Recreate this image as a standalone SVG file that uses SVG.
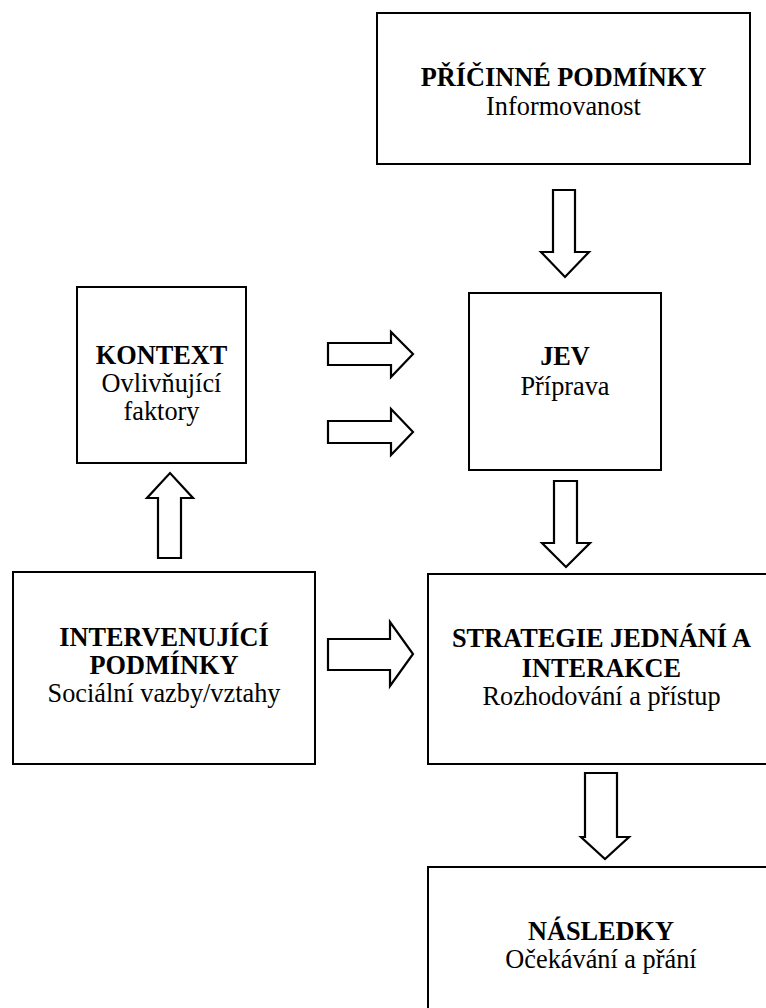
<svg xmlns="http://www.w3.org/2000/svg" width="766" height="1008" viewBox="0 0 766 1008">
<style>
.box{fill:#fff;stroke:#000;stroke-width:2}
.arr{fill:#fff;stroke:#000;stroke-width:2.2;stroke-linejoin:miter}
text{font-family:"Liberation Serif","Times New Roman",serif;font-size:26.3px;fill:#000;text-anchor:middle}
.b{font-weight:bold}
</style>
<rect width="766" height="1008" fill="#fff"/>
<g id="connectors">
<polygon class="arr" points="553,190 575,190 575,252 589,252 565,277 541,252 553,252"/>
<polygon class="arr" points="554,481 577,481 577,543 590,543 566,567 542,543 554,543"/>
<polygon class="arr" points="585,773 617,773 617,837 629,837 605,859 581,837 585,837"/>
<polygon class="arr" points="328,343 391,343 391,332 413,354 391,377 391,365 328,365"/>
<polygon class="arr" points="328,421 391,421 391,409 413,432 391,455 391,443 328,443"/>
<polygon class="arr" points="328,639 390,639 390,622 413,654 390,686 390,670 328,670"/>
<polygon class="arr" points="158,558 158,498 147,498 170,473 193,498 181,498 181,558"/>
</g>
<g id="pricinne">
<rect class="box" x="377" y="13" width="373" height="151"/>
<text class="b" x="563.5" y="86">PŘÍČINNÉ PODMÍNKY</text>
<text x="563.5" y="115">Informovanost</text>
</g>
<g id="jev">
<rect class="box" x="469" y="293" width="192" height="177"/>
<text class="b" x="565" y="365">JEV</text>
<text x="565" y="395">Příprava</text>
</g>
<g id="kontext">
<rect class="box" x="77" y="287" width="169" height="176"/>
<text class="b" x="161.5" y="364">KONTEXT</text>
<text x="161.5" y="392">Ovlivňující</text>
<text x="161.5" y="420">faktory</text>
</g>
<g id="intervenujici">
<rect class="box" x="13" y="572" width="302" height="192"/>
<text class="b" x="164" y="646">INTERVENUJÍCÍ</text>
<text class="b" x="164" y="674">PODMÍNKY</text>
<text x="164" y="702">Sociální vazby/vztahy</text>
</g>
<g id="strategie">
<rect class="box" x="428" y="574" width="347" height="190"/>
<text class="b" x="601.5" y="647">STRATEGIE JEDNÁNÍ A</text>
<text class="b" x="601.5" y="677">INTERAKCE</text>
<text x="601.5" y="705">Rozhodování a přístup</text>
</g>
<g id="nasledky">
<rect class="box" x="428" y="867" width="347" height="160"/>
<text class="b" x="601" y="940">NÁSLEDKY</text>
<text x="601" y="968">Očekávání a přání</text>
</g>
</svg>
